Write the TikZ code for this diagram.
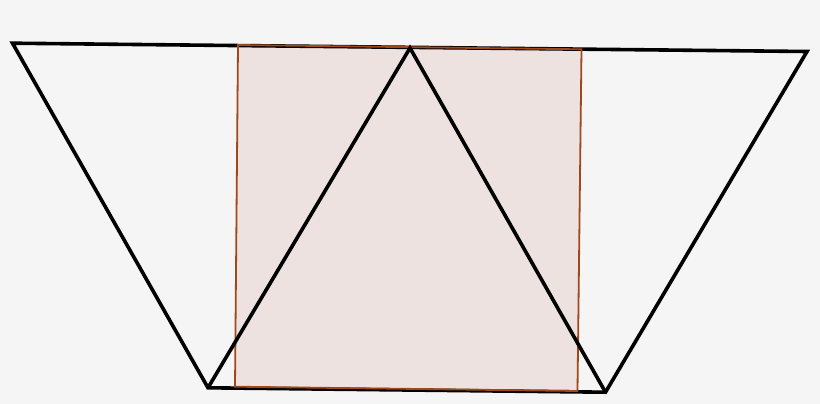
\documentclass[tikz,border=0pt]{standalone}
\definecolor{bg}{RGB}{245,245,245}
\definecolor{sqfill}{RGB}{237,226,223}
\definecolor{sqline}{RGB}{160,72,28}
\tikzset{
  blk/.style={line width=3.6pt, black, line join=miter},
  sq/.style={line width=1.8pt, draw=sqline, fill=sqfill}
}
\begin{document}
\begin{tikzpicture}[x=1pt,y=-1pt]
\fill[bg] (0,0) rectangle (820,404);
\useasboundingbox (0,0) rectangle (820,404);
\coordinate (TL) at (12.5,43.2);
\coordinate (TR) at (807,51.5);
\coordinate (BL) at (208,387.8);
\coordinate (BR) at (605.5,392.2);
\coordinate (A) at (410,48);
\coordinate (S1) at (238,45);
\coordinate (S2) at (581.5,49.3);
\coordinate (S3) at (577.5,391);
\coordinate (S4) at (235,386.7);
\fill[sqfill] (S1) -- (S2) -- (S3) -- (S4) -- cycle;
\draw[blk] (TL) -- (TR) -- (BR) -- (BL) -- cycle;
\draw[sq, fill=none] (S1) -- (S2) -- (S3) -- (S4) -- cycle;
\draw[blk] (BL) -- (A) -- (BR);
\end{tikzpicture}
\end{document}
